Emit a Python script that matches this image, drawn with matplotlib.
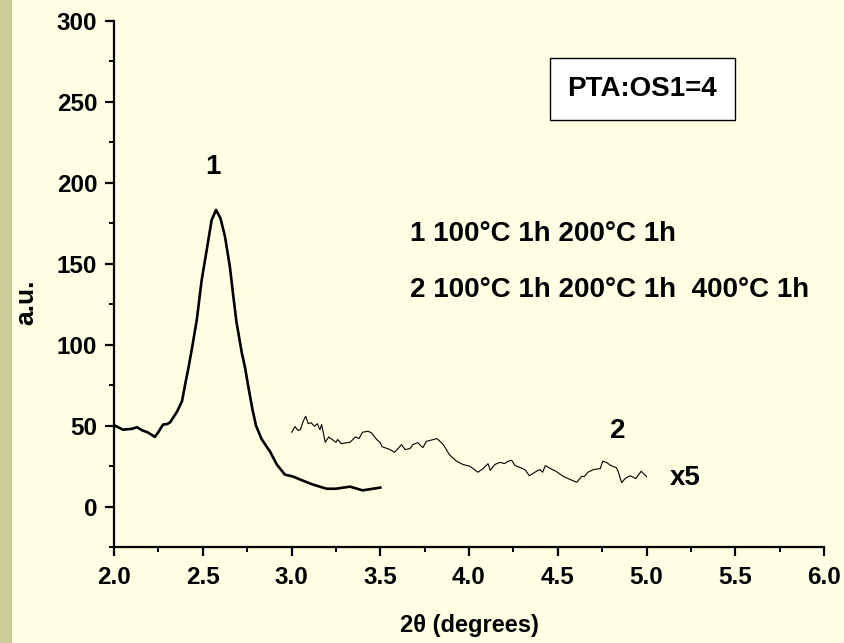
import matplotlib
matplotlib.use("Agg")
import matplotlib.pyplot as plt
from matplotlib.patches import Rectangle
from matplotlib.ticker import MultipleLocator

# Curve 1: 100°C 1h + 200°C 1h
x1 = [2.006, 2.05, 2.10, 2.13, 2.16, 2.186, 2.21, 2.23, 2.25, 2.276, 2.30, 2.316, 2.355,
      2.383, 2.40, 2.42, 2.438, 2.466, 2.494, 2.52, 2.55, 2.575, 2.60, 2.625, 2.653,
      2.67, 2.69, 2.72, 2.738, 2.76, 2.78, 2.80, 2.83, 2.86, 2.879, 2.917, 2.963,
      3.01, 3.048, 3.12, 3.198, 3.25, 3.33, 3.40, 3.50]
y1 = [50, 47.5, 48, 49, 47, 46, 44.5, 43, 46, 50.6, 51, 52, 58.6,
      65, 75, 86, 97, 115, 140, 157, 177, 183.3, 178, 167, 148,
      132, 114, 95, 86, 72, 60, 50, 42, 37, 34, 26, 19.7,
      18.5, 16.7, 13.6, 11, 11, 12.3, 10, 11.7]

# Curve 2: 100°C 1h + 200°C 1h + 400°C 1h (scaled x5)
x2 = [3.001, 3.02, 3.037, 3.05, 3.066, 3.08, 3.094, 3.11, 3.13, 3.145, 3.16, 3.17,
      3.19, 3.21, 3.25, 3.26, 3.28, 3.33, 3.36, 3.38, 3.40, 3.43, 3.45, 3.48, 3.50,
      3.51, 3.555, 3.58, 3.60, 3.62, 3.64, 3.667, 3.685, 3.71, 3.74, 3.76, 3.80,
      3.82, 3.855, 3.89, 3.93, 3.966, 4.005, 4.05, 4.08, 4.107, 4.12, 4.146, 4.175,
      4.20, 4.22, 4.24, 4.26, 4.29, 4.315, 4.34, 4.38, 4.40, 4.415, 4.43, 4.47,
      4.49, 4.53, 4.57, 4.607, 4.635, 4.65, 4.67, 4.70, 4.74, 4.753, 4.775, 4.80,
      4.83, 4.84, 4.86, 4.88, 4.907, 4.94, 4.97, 5.00]
y2 = [45.9, 49.4, 47, 47.5, 52.7, 55.8, 51.2, 51.8, 49.6, 51.2, 47.5, 50.6,
      39.7, 43, 39.7, 41.4, 38.9, 39.7, 43, 42, 45.9, 46.5, 45.6, 41.4, 39.5,
      37, 35.2, 33.5, 35.8, 38.3, 35.2, 35.8, 38.3, 39.5, 36.4, 40.3, 41.4,
      42, 38.3, 32, 28, 26, 24.9, 21.2, 23.5, 26.5, 22.4, 26, 27.3,
      26.5, 28, 28.6, 25.3, 24, 22.8, 19, 21.8, 22.8, 21.2, 25.3, 22.8,
      21.8, 18.7, 16.7, 15, 18.7, 18.5, 21.2, 22.8, 23.5, 28, 27.2, 25.3,
      24, 21.8, 14.8, 17.3, 19, 17.3, 21.8, 18.5]

xticks = [2.0, 2.5, 3.0, 3.5, 4.0, 4.5, 5.0, 5.5, 6.0]
yticks = [0, 50, 100, 150, 200, 250, 300]

BG = "#FFFFE3"
plt.rcParams['font.family'] = ['Liberation Sans', 'DejaVu Sans']
plt.rcParams['font.weight'] = 'bold'

fig = plt.figure(figsize=(8.44, 6.43), dpi=100, facecolor=BG)
fig.patches.append(Rectangle((0, 0), 12 / 844, 1, transform=fig.transFigure,
                             facecolor="#CCCC99", edgecolor="none", zorder=0))
ax = fig.add_axes([114 / 844, 96 / 643, 710 / 844, 526 / 643])
ax.set_facecolor(BG)

ax.plot(x1, y1, color="black", lw=1.9)
ax.plot(x2, y2, color="black", lw=0.8)

ax.set_xlim(2.0, 6.0)
ax.set_ylim(-25, 300)
ax.set_xticks(xticks)
ax.set_xticklabels([f"{v:.1f}" for v in xticks])
ax.set_yticks(yticks)
ax.xaxis.set_minor_locator(MultipleLocator(0.25))
ax.yaxis.set_minor_locator(MultipleLocator(25))

for s in ("top", "right"):
    ax.spines[s].set_visible(False)
for s in ("left", "bottom"):
    ax.spines[s].set_linewidth(1.6)

ax.tick_params(which="major", direction="out", length=6.5, width=1.6,
               labelsize=17.5)
ax.tick_params(axis="x", which="major", pad=7.5)
ax.tick_params(axis="y", which="major", pad=5.5)
ax.tick_params(which="minor", direction="out", length=3.5, width=1.4)
for lab in ax.get_xticklabels() + ax.get_yticklabels():
    lab.set_fontweight("bold")

ax.set_xlabel("2θ (degrees)", fontsize=17, fontweight="bold", va="top")
ax.xaxis.set_label_coords(0.5, -0.128)
ax.set_ylabel("a.u.", fontsize=19, fontweight="bold")
ax.yaxis.set_label_coords(-0.107, 0.466)

fs = 20
ax.text(2.558, 210, "1", fontsize=fs, fontweight="bold", ha="center", va="center")
ax.text(4.84, 46.5, "2", fontsize=fs, fontweight="bold", ha="center", va="center")
ax.text(5.217, 17.5, "x5", fontsize=fs, fontweight="bold", ha="center", va="center")
ax.text(3.668, 168.5, "1 100°C 1h 200°C 1h", fontsize=fs, fontweight="bold",
        ha="left", va="center")
ax.text(3.668, 134, "2 100°C 1h 200°C 1h  400°C 1h", fontsize=fs, fontweight="bold",
        ha="left", va="center")
ax.text(4.977, 258, "PTA:OS1=4", fontsize=fs, fontweight="bold", ha="center", va="center",
        bbox=dict(boxstyle="square,pad=0.65", facecolor="white", edgecolor="black", lw=1.0))

fig.savefig("out.png", dpi=100, facecolor=BG)
